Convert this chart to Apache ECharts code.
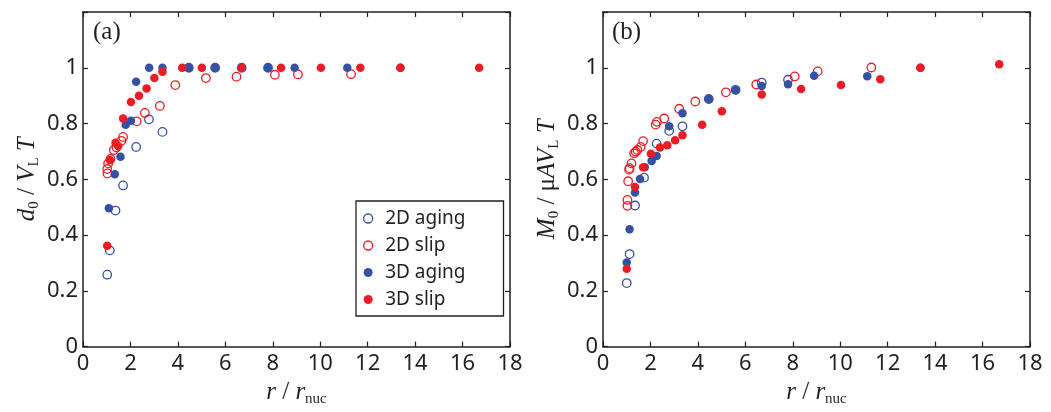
<!DOCTYPE html>
<html>
<head>
<meta charset="utf-8">
<script src="https://cdn.jsdelivr.net/npm/echarts@6/dist/echarts.min.js"></script>
<style>
html,body{margin:0;padding:0;background:#fff;}
#c{width:1051px;height:412px;}
</style>
</head>
<body>
<div id="c"></div>
<script>
// ---------- data ----------
const xTicks = [0, 2, 4, 6, 8, 10, 12, 14, 16, 18];
const yTicks = [0, 0.2, 0.4, 0.6, 0.8, 1];
const seriesNames = ['2D aging', '2D slip', '3D aging', '3D slip'];

// panel (a): d0 / (V_L T)
const a_aging2D = [[1.02,0.258],[1.13,0.345],[1.37,0.488],[1.69,0.578],[2.24,0.716],[2.78,0.815],[3.35,0.77],[4.46,1],[5.57,1],[6.69,1],[7.8,1]];
const a_slip2D = [[1.03,0.621],[1.02,0.637],[1.06,0.657],[1.16,0.673],[1.30,0.705],[1.41,0.714],[1.62,0.738],[1.69,0.752],[2.26,0.808],[2.61,0.838],[3.24,0.863],[3.89,0.938],[5.18,0.963],[6.47,0.968],[8.09,0.975],[9.06,0.976],[11.3,0.977]];
const a_aging3D = [[1.09,0.496],[1.34,0.618],[1.58,0.681],[1.80,0.796],[2.02,0.81],[2.24,0.95],[2.79,1],[3.35,1],[4.46,1],[5.57,1],[6.69,1],[7.8,1],[8.92,1],[11.14,1],[13.38,1]];
const a_slip3D = [[1.02,0.362],[1.13,0.669],[1.37,0.731],[1.48,0.719],[1.69,0.818],[2.02,0.877],[2.36,0.9],[2.68,0.926],[3.01,0.963],[3.35,0.986],[4.18,1],[5.01,1],[6.69,1],[8.35,1],[10.03,1],[11.69,1],[13.38,1],[16.7,1]];

// panel (b): M0 / (mu A V_L T)
const b_aging2D = [[1.0,0.228],[1.12,0.332],[1.35,0.506],[1.73,0.606],[2.26,0.728],[2.79,0.774],[3.35,0.79],[4.46,0.888],[5.59,0.921],[6.69,0.947],[7.8,0.957]];
const b_slip2D = [[1.03,0.505],[1.03,0.526],[1.06,0.593],[1.10,0.635],[1.12,0.64],[1.20,0.657],[1.31,0.693],[1.38,0.699],[1.45,0.705],[1.59,0.716],[1.69,0.737],[2.22,0.796],[2.27,0.806],[2.58,0.818],[3.21,0.853],[3.89,0.879],[5.18,0.912],[6.46,0.94],[8.08,0.969],[9.05,0.987],[11.31,1.001]];
const b_aging3D = [[1.0,0.302],[1.12,0.421],[1.35,0.553],[1.56,0.601],[1.76,0.643],[2.05,0.666],[2.26,0.684],[2.79,0.79],[3.35,0.837],[4.46,0.888],[5.59,0.919],[6.69,0.935],[7.8,0.941],[8.9,0.971],[11.14,0.970],[13.38,1.0]];
const b_slip3D = [[1.0,0.279],[1.35,0.572],[1.69,0.643],[2.02,0.692],[2.4,0.714],[2.71,0.722],[3.04,0.74],[3.35,0.758],[4.18,0.796],[5.01,0.844],[6.69,0.904],[8.35,0.924],[10.03,0.938],[11.69,0.959],[13.38,1.0],[16.7,1.013]];

// ---------- styles ----------
const BLUE = '#3451a3';
const RED = '#ed1c24';
const AX = '#231f20';
const SANS = "'Noto Sans', 'Open Sans', sans-serif";
const SERIF = "'Liberation Serif', 'DejaVu Serif', serif";

const rich = {
  i: {fontFamily: SERIF, fontStyle: 'italic', fontSize: 25, lineHeight: 30, color: AX},
  n: {fontFamily: SERIF, fontSize: 25, lineHeight: 30, color: AX},
  s: {fontFamily: SERIF, fontSize: 15, lineHeight: 15, verticalAlign: 'bottom', color: AX}
};

const xMin = xTicks[0], xMax = xTicks[xTicks.length - 1], xInt = xTicks[1] - xTicks[0];
const yInt = yTicks[1] - yTicks[0];

function xAx(grid, top, name) {
  return {
    type: 'value', gridIndex: grid, position: top ? 'top' : 'bottom',
    min: xMin, max: xMax, interval: xInt,
    axisLine: {show: true, onZero: false, lineStyle: {color: AX, width: 1.5}},
    axisTick: {show: true, inside: true, length: 5, lineStyle: {color: AX, width: 1.2}},
    axisLabel: {show: !top, color: AX, fontFamily: SANS, fontSize: 22, margin: 6},
    splitLine: {show: false},
    name: top ? '' : name, nameLocation: 'middle', nameGap: 25,
    nameTextStyle: {rich: rich}
  };
}
function yAx(grid, right, name) {
  return {
    type: 'value', gridIndex: grid, position: right ? 'right' : 'left',
    min: 0, max: 1.2, interval: yInt,
    axisLine: {show: true, onZero: false, lineStyle: {color: AX, width: 1.5}},
    axisTick: {show: true, inside: true, length: 5, lineStyle: {color: AX, width: 1.2}},
    axisLabel: {show: !right, color: AX, fontFamily: SANS, fontSize: 22, margin: 5,
      formatter: v => (v > yTicks[yTicks.length - 1] + 1e-6) ? '' : String(Math.round(v * 10) / 10)},
    splitLine: {show: false},
    name: right ? '' : name, nameLocation: 'middle', nameGap: 41,
    nameTextStyle: {rich: rich}
  };
}

const xName = '{i|r}{n| / }{i|r}{s|nuc}';
const yNameA = '{i|d}{s|0}{n| / }{i|V}{s|L}{i| T}';
const yNameB = '{i|M}{s|0}{n| / μ}{i|AV}{s|L}{i| T}';

function openSeries(name, data, color, xi, yi) {
  return {type: 'scatter', name, data, xAxisIndex: xi, yAxisIndex: yi, symbol: 'circle', symbolSize: 8.5,
    itemStyle: {color: 'rgba(255,255,255,0)', borderColor: color, borderWidth: 1.3, opacity: 1}, z: 2,
    emphasis: {disabled: true}};
}
function filledSeries(name, data, color, xi, yi) {
  return {type: 'scatter', name, data, xAxisIndex: xi, yAxisIndex: yi, symbol: 'circle', symbolSize: 8.5,
    itemStyle: {color: color, opacity: 1}, z: 3, emphasis: {disabled: true}};
}

const option = {
  animation: false,
  backgroundColor: '#fff',
  grid: [
    {left: 83, top: 12, width: 427, height: 336},
    {left: 603, top: 12, width: 427, height: 336}
  ],
  xAxis: [xAx(0, false, xName), xAx(0, true), xAx(1, false, xName), xAx(1, true)],
  yAxis: [yAx(0, false, yNameA), yAx(0, true), yAx(1, false, yNameB), yAx(1, true)],
  legend: {
    orient: 'vertical', left: 356, top: 201,
    data: [
      {name: seriesNames[0], itemStyle: {borderWidth: 1.3}},
      {name: seriesNames[1], itemStyle: {borderWidth: 1.3}},
      {name: seriesNames[2]},
      {name: seriesNames[3]}
    ],
    borderColor: AX, borderWidth: 1.3, borderRadius: 0,
    padding: [7, 38, 6, 7],
    itemWidth: 24, itemHeight: 9, itemGap: 6,
    textStyle: {fontFamily: SANS, fontSize: 19, color: AX, lineHeight: 21},
    selectedMode: false
  },
  graphic: [
    {type: 'text', left: 93, top: 20, style: {text: '(a)', font: "25px 'Liberation Serif', serif", fill: AX}},
    {type: 'text', left: 612, top: 20, style: {text: '(b)', font: "25px 'Liberation Serif', serif", fill: AX}}
  ],
  series: [
    openSeries(seriesNames[0], a_aging2D, BLUE, 0, 0),
    openSeries(seriesNames[1], a_slip2D, RED, 0, 0),
    filledSeries(seriesNames[2], a_aging3D, BLUE, 0, 0),
    filledSeries(seriesNames[3], a_slip3D, RED, 0, 0),
    openSeries(seriesNames[0], b_aging2D, BLUE, 2, 2),
    openSeries(seriesNames[1], b_slip2D, RED, 2, 2),
    filledSeries(seriesNames[2], b_aging3D, BLUE, 2, 2),
    filledSeries(seriesNames[3], b_slip3D, RED, 2, 2)
  ]
};

const chart = echarts.init(document.getElementById('c'), null, {renderer: 'canvas'});
chart.setOption(option);
</script>
</body>
</html>
